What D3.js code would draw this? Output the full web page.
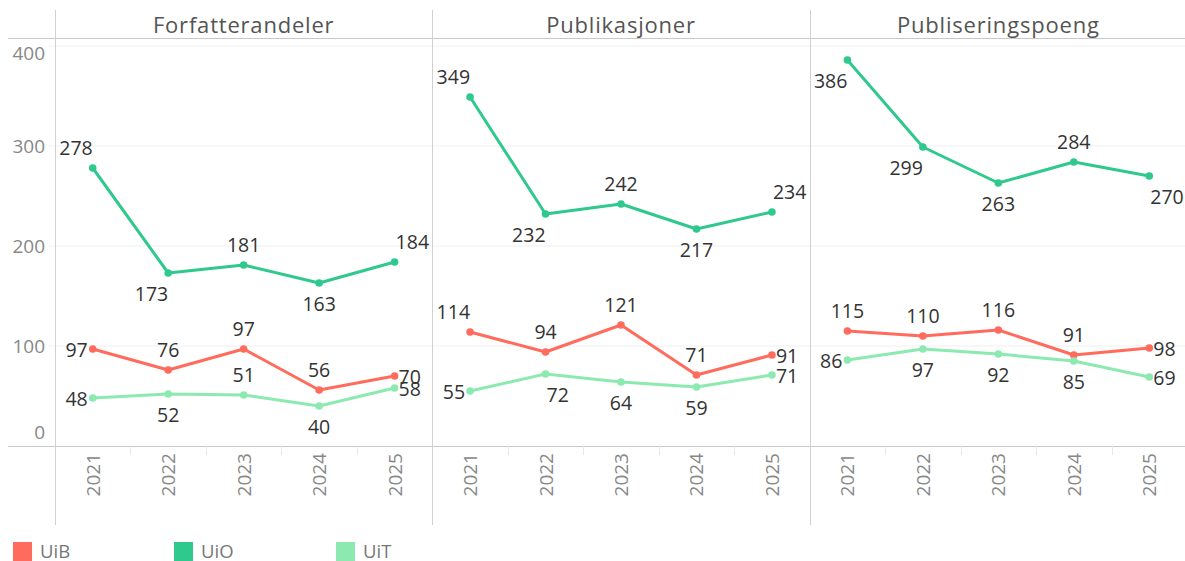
<!DOCTYPE html>
<html>
<head>
<meta charset="utf-8">
<script src="https://cdn.jsdelivr.net/npm/d3@7"></script>
<style>
  html, body { margin: 0; padding: 0; background: #fff; }
  svg { display: block; font-family: "Open Sans", "Noto Sans", sans-serif; }
</style>
</head>
<body>
<svg id="chart" width="1185" height="561"></svg>
<script>
// ---- data ----
const panels = ["Forfatterandeler", "Publikasjoner", "Publiseringspoeng"];
const years = ["2021", "2022", "2023", "2024", "2025"];
const seriesNames = ["UiB", "UiO", "UiT"];
const yTicks = [0, 100, 200, 300, 400];

const forfatterUiB = [97, 76, 97, 56, 70];
const forfatterUiO = [278, 173, 181, 163, 184];
const forfatterUiT = [48, 52, 51, 40, 58];

const publikUiB = [114, 94, 121, 71, 91];
const publikUiO = [349, 232, 242, 217, 234];
const publikUiT = [55, 72, 64, 59, 71];

const poengUiB = [115, 110, 116, 91, 98];
const poengUiO = [386, 299, 263, 284, 270];
const poengUiT = [86, 97, 92, 85, 69];

// label placement (T, B, L, R, TL, TR, BL, BR)
const placeForfatter = { UiB: ["L","T","T","T","R"], UiO: ["TL","BL","T","B","TR"], UiT: ["L","B","T","B","R"] };
const placePublik    = { UiB: ["TL","T","T","T","R"], UiO: ["TL","BL","T","B","TR"], UiT: ["L","BR","B","B","R"] };
const placePoeng     = { UiB: ["T","T","T","T","R"], UiO: ["BL","BL","B","T","BR"], UiT: ["L","B","B","B","R"] };

const panelData = [
  { name: panels[0], series: { UiB: forfatterUiB, UiO: forfatterUiO, UiT: forfatterUiT }, place: placeForfatter },
  { name: panels[1], series: { UiB: publikUiB, UiO: publikUiO, UiT: publikUiT }, place: placePublik },
  { name: panels[2], series: { UiB: poengUiB, UiO: poengUiO, UiT: poengUiT }, place: placePoeng }
];

const colors = { UiB: "#ff6b5c", UiO: "#2fc98d", UiT: "#8ceab1" };

// ---- layout ----
const svg = d3.select("#chart");
const W = 1185;
const plotLeft = 55, plotTop = 40, plotBottom = 446;

const panelScale = d3.scaleBand().domain(panels).range([plotLeft, 1187]);
const y = d3.scaleLinear().domain([0, 406]).range([plotBottom, plotTop]);

// gridlines
svg.append("g").selectAll("line").data(yTicks.filter(d => d > 0)).join("line")
  .attr("x1", 48).attr("x2", W)
  .attr("y1", d => y(d)).attr("y2", d => y(d))
  .attr("stroke", "#efefef").attr("stroke-width", 1);

// header line & x axis line
svg.append("line").attr("x1", 8).attr("x2", W).attr("y1", 38.5).attr("y2", 38.5)
  .attr("stroke", "#c8c8c8").attr("stroke-width", 1);
svg.append("line").attr("x1", 8).attr("x2", W).attr("y1", plotBottom + 0.5).attr("y2", plotBottom + 0.5)
  .attr("stroke", "#c8c8c8").attr("stroke-width", 1);

// vertical dividers
svg.append("g").selectAll("line").data(panels).join("line")
  .attr("x1", d => Math.round(panelScale(d)) + 0.5).attr("x2", d => Math.round(panelScale(d)) + 0.5)
  .attr("y1", 10).attr("y2", 525)
  .attr("stroke", "#d0d0d0").attr("stroke-width", 1);

// y axis labels
const yLabelY = d => Math.min(Math.max(y(d), plotTop + 13), plotBottom - 14);
svg.append("g").selectAll("text").data(yTicks).join("text")
  .attr("x", 45).attr("y", d => yLabelY(d))
  .attr("text-anchor", "end").attr("dominant-baseline", "central")
  .attr("font-size", 19).attr("fill", "#888")
  .text(d => d);

// panel titles
svg.append("g").selectAll("text").data(panels).join("text")
  .attr("x", d => panelScale(d) + panelScale.bandwidth() / 2).attr("y", 24)
  .attr("text-anchor", "middle").attr("dominant-baseline", "central")
  .attr("font-size", 22).attr("letter-spacing", 0.8).attr("fill", "#555")
  .text(d => d);

const offsets = {
  T:  { dx: 0,  dy: -21, anchor: "middle" },
  B:  { dx: 0,  dy: 20,  anchor: "middle" },
  L:  { dx: -5, dy: 0,   anchor: "end" },
  R:  { dx: 4,  dy: 0,   anchor: "start" },
  TL: { dx: 0,  dy: -21, anchor: "end" },
  BL: { dx: 0,  dy: 20,  anchor: "end" },
  TR: { dx: 1,  dy: -21, anchor: "start" },
  BR: { dx: 1,  dy: 20,  anchor: "start" }
};

panelData.forEach(p => {
  const x = d3.scaleBand().domain(years)
    .range([panelScale(p.name), panelScale(p.name) + panelScale.bandwidth()]);
  const g = svg.append("g");

  // band separator ticks on the x axis
  g.selectAll("line.sep").data(years.slice(1)).join("line")
    .attr("class", "sep")
    .attr("x1", d => Math.round(x(d)) + 0.5).attr("x2", d => Math.round(x(d)) + 0.5)
    .attr("y1", plotBottom).attr("y2", plotBottom + 9)
    .attr("stroke", "#e8e8e8");

  // year labels
  g.selectAll("text.year").data(years).join("text")
    .attr("class", "year")
    .attr("transform", d => `translate(${x(d) + x.bandwidth() / 2},453) rotate(-90)`)
    .attr("text-anchor", "end").attr("dominant-baseline", "central")
    .attr("font-size", 19).attr("fill", "#888")
    .text(d => d);

  const line = d3.line()
    .x((d, i) => x(years[i]) + x.bandwidth() / 2)
    .y(d => y(d));

  ["UiB", "UiT", "UiO"].forEach(s => {
    const vals = p.series[s];
    g.append("path").datum(vals)
      .attr("d", line).attr("fill", "none")
      .attr("stroke", colors[s]).attr("stroke-width", 3)
      .attr("stroke-linejoin", "round");
    g.selectAll(null).data(vals).join("circle")
      .attr("cx", (d, i) => x(years[i]) + x.bandwidth() / 2)
      .attr("cy", d => y(d)).attr("r", 3.8)
      .attr("fill", colors[s]);
  });

  seriesNames.forEach(s => {
    const vals = p.series[s];
    g.selectAll(null).data(vals).join("text")
      .attr("x", (d, i) => x(years[i]) + x.bandwidth() / 2 + offsets[p.place[s][i]].dx)
      .attr("y", (d, i) => y(d) + offsets[p.place[s][i]].dy)
      .attr("text-anchor", (d, i) => offsets[p.place[s][i]].anchor)
      .attr("dominant-baseline", "central")
      .attr("font-size", 19.5).attr("fill", "#333")
      .text(d => d);
  });
});

// legend
const legendX = { UiB: 13, UiO: 174, UiT: 336 };
const lg = svg.append("g");
lg.selectAll("rect").data(seriesNames).join("rect")
  .attr("x", d => legendX[d]).attr("y", 542).attr("width", 19).attr("height", 19)
  .attr("fill", d => colors[d]);
lg.selectAll("text").data(seriesNames).join("text")
  .attr("x", d => legendX[d] + 27).attr("y", 550)
  .attr("dominant-baseline", "central")
  .attr("font-size", 18.5).attr("fill", "#777")
  .text(d => d);
</script>
</body>
</html>
